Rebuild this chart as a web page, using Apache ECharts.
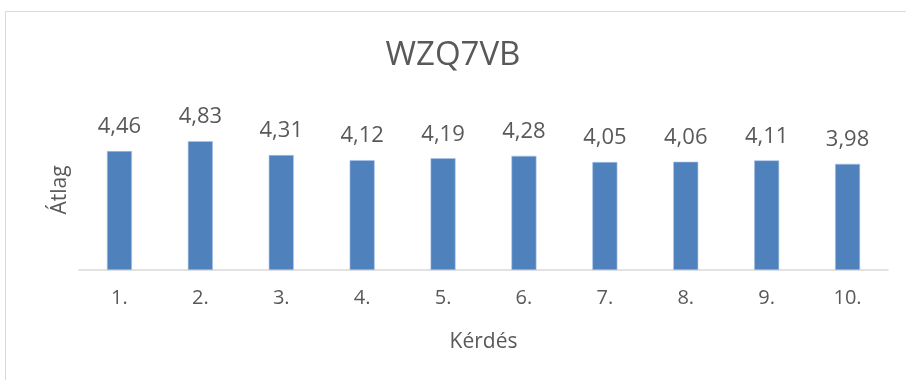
<!DOCTYPE html>
<html>
<head>
<meta charset="utf-8">
<script src="https://cdn.jsdelivr.net/npm/echarts@6/dist/echarts.min.js"></script>
<style>
  html, body { margin: 0; padding: 0; background: #fff; }
  #chart { width: 906px; height: 380px; }
</style>
</head>
<body>
<div id="chart"></div>
<script>
// Question numbers and their average scores
const categories = ['1.', '2.', '3.', '4.', '5.', '6.', '7.', '8.', '9.', '10.'];
const averages = [4.46, 4.83, 4.31, 4.12, 4.19, 4.28, 4.05, 4.06, 4.11, 3.98];
const chartTitle = 'WZQ7VB';
const xAxisName = 'Kérdés';
const yAxisName = 'Átlag';

const FONT = '"Open Sans", "Noto Sans", sans-serif';
const TEXT = '#595959';

const chart = echarts.init(document.getElementById('chart'), null, { renderer: 'canvas' });

chart.setOption({
  backgroundColor: '#ffffff',
  animation: false,
  title: {
    text: chartTitle,
    left: 'center',
    top: 34,
    textStyle: { fontFamily: FONT, fontSize: 33, fontWeight: 'normal', color: TEXT }
  },
  graphic: [{
    type: 'rect',
    shape: { x: 5.5, y: 11.5, width: 940, height: 420 },
    style: { fill: 'none', stroke: '#d9d9d9', lineWidth: 1 },
    silent: true
  }],
  grid: { left: 79, right: 18, top: 110, bottom: 110 },
  xAxis: {
    type: 'category',
    data: categories,
    name: xAxisName,
    nameLocation: 'middle',
    nameGap: 62,
    nameTextStyle: { fontFamily: FONT, fontSize: 21, color: TEXT },
    axisLine: { lineStyle: { color: '#d9d9d9', width: 1.5 } },
    axisTick: { show: false },
    axisLabel: { fontFamily: FONT, fontSize: 20, color: TEXT, margin: 18 }
  },
  yAxis: {
    type: 'value',
    min: 0,
    max: 6,
    interval: 1,
    name: yAxisName,
    nameLocation: 'middle',
    nameRotate: 90,
    nameGap: 8,
    nameTextStyle: { fontFamily: FONT, fontSize: 21, color: TEXT },
    axisLine: { show: false },
    axisTick: { show: false },
    axisLabel: { show: false },
    splitLine: { show: false }
  },
  series: [{
    type: 'bar',
    data: averages,
    barWidth: 25,
    itemStyle: { color: '#4f81bd', borderColor: '#a9c4e6', borderWidth: 0.6 },
    label: {
      show: true,
      position: 'top',
      distance: 13,
      fontFamily: FONT,
      fontSize: 22,
      color: TEXT,
      formatter: p => p.value.toFixed(2).replace('.', ',')
    }
  }]
});
</script>
</body>
</html>
